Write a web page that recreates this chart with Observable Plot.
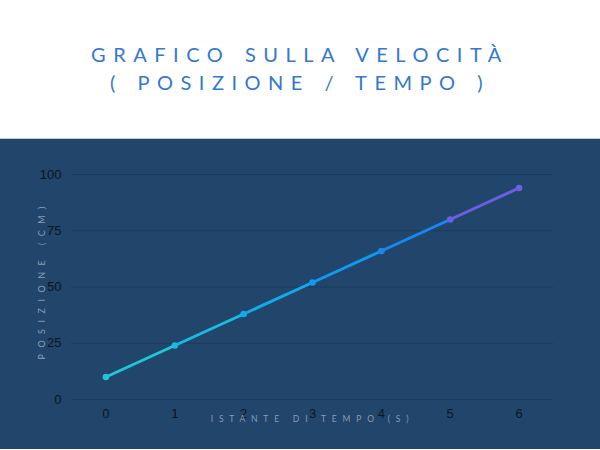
<!DOCTYPE html>
<html>
<head>
<meta charset="utf-8">
<script src="https://cdn.jsdelivr.net/npm/d3@7"></script>
<script src="https://cdn.jsdelivr.net/npm/@observablehq/plot@0.6"></script>
<style>
  html, body { margin: 0; padding: 0; background: #ffffff; }
  #page { width: 600px; height: 450px; overflow: hidden; }
  #header {
    height: 139px; box-sizing: border-box; padding-top: 40px;
    background: #ffffff; border-bottom: 1px solid #c5cad1;
    text-align: center; color: #3278d0;
    font-family: Lato, "Open Sans", sans-serif; font-weight: 400;
    font-size: 20px; line-height: 28px; letter-spacing: 7.5px; word-spacing: 2px;
  }
  #chart { height: 310px; background: #21456b; }
  #chart svg { display: block; }
</style>
</head>
<body>
<div id="page">
  <div id="header">GRAFICO SULLA VELOCITÀ<br>( POSIZIONE / TEMPO )</div>
  <div id="chart"></div>
</div>
<script>
// Data
const tempo = [0, 1, 2, 3, 4, 5, 6];
const posizione = [10, 24, 38, 52, 66, 80, 94];
const yTicks = [0, 25, 50, 75, 100];
const xTicks = [0, 1, 2, 3, 4, 5, 6];
const xLabel = "ISTANTE DI TEMPO (S)";
const yLabel = "POSIZIONE (CM)";

// palette (styling) for each point / segment
const palette = ["#1ec6d6", "#19bbe0", "#12abe8", "#0e9af0", "#1788f3", "#6b60e3", "#6b60e3"];

const points = tempo.map((t, i) => ({t, p: posizione[i], k: i}));
const segments = tempo.slice(0, -1).map((t, i) => ({
  t1: t, p1: posizione[i], t2: tempo[i + 1], p2: posizione[i + 1], k: i
}));

const chart = Plot.plot({
  width: 600,
  height: 310,
  marginTop: 35,
  marginBottom: 50,
  marginLeft: 71,
  marginRight: 47,
  style: {background: "transparent", fontFamily: "'Liberation Sans', Arial, sans-serif"},
  x: {domain: [-0.5, 6.5]},
  y: {domain: [0, 100]},
  color: {type: "ordinal", domain: d3.range(palette.length), range: palette},
  marks: [
    Plot.ruleY(yTicks, {stroke: "#18334f", strokeOpacity: 0.55, strokeWidth: 1}),
    Plot.axisY({ticks: yTicks, tickSize: 0, tickPadding: 10, fontSize: 13, fill: "#0a1622", label: null}),
    Plot.axisX({ticks: xTicks, tickFormat: d => String(d), tickSize: 0, tickPadding: 9, fontSize: 13, fill: "#0a1622", label: null}),
    Plot.link(segments, {x1: "t1", y1: "p1", x2: "t2", y2: "p2", stroke: "k", strokeWidth: 3, strokeLinecap: "round"}),
    Plot.dot(points, {x: "t", y: "p", fill: "k", r: 3.3}),
    Plot.text([yLabel], {text: d => d, frameAnchor: "bottom-left", textAnchor: "start", lineAnchor: "middle", rotate: -90, dx: -29, dy: -40, fill: "#8a9db3", fontSize: 9, fontFamily: "Lato, sans-serif"}),
    Plot.text([xLabel], {text: d => d, frameAnchor: "bottom", lineAnchor: "middle", dy: 20, fill: "#8a9db3", fontSize: 8.5, fontFamily: "Lato, sans-serif"})
  ]
});
d3.select(chart).selectAll("text")
  .filter(function () { return this.textContent === xLabel; })
  .style("letter-spacing", "5.8px");
d3.select(chart).selectAll("text")
  .filter(function () { return this.textContent === yLabel; })
  .style("letter-spacing", "6.5px");
document.getElementById("chart").appendChild(chart);
</script>
</body>
</html>
